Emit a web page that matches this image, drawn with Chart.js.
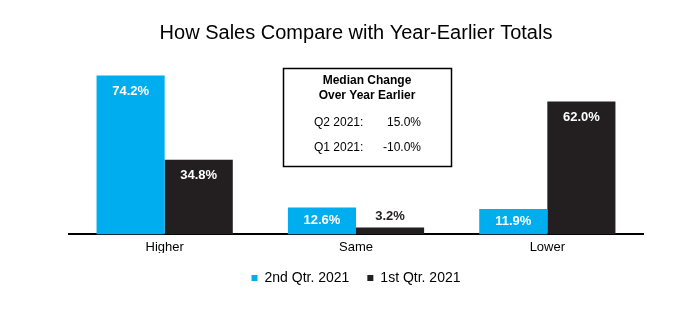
<!DOCTYPE html>
<html>
<head>
<meta charset="utf-8">
<script src="https://cdn.jsdelivr.net/npm/chart.js@4.4.0/dist/chart.umd.min.js"></script>
<style>
  html, body { margin: 0; padding: 0; background: #fff; }
  #wrap { width: 698px; height: 328px; }
</style>
</head>
<body>
<div id="wrap"><canvas id="chartSales"></canvas></div>
<script>
// data
const categories = ['Higher', 'Same', 'Lower'];
const q2_2021 = [74.2, 12.6, 11.9];
const q1_2021 = [34.8, 3.2, 62.0];
const seriesNames = ['2nd Qtr. 2021', '1st Qtr. 2021'];
const boxTitle = ['Median Change', 'Over Year Earlier'];
const boxRows = [['Q2 2021:', '15.0%'], ['Q1 2021:', '-10.0%']];

const BLUE = '#00aeef';
const DARK = '#231f20';
const FONT = "'Liberation Sans', Arial, sans-serif";

// white value labels inside the bars (black above when bar is too short)
const valueLabels = {
  id: 'valueLabels',
  afterDatasetsDraw(chart) {
    const ctx = chart.ctx;
    ctx.save();
    ctx.font = 'bold 13px ' + FONT;
    ctx.textAlign = 'center';
    ctx.textBaseline = 'middle';
    chart.data.datasets.forEach((ds, i) => {
      chart.getDatasetMeta(i).data.forEach((bar, j) => {
        const h = bar.base - bar.y;
        const txt = ds.data[j].toFixed(1) + '%';
        let y;
        if (h < 14) {
          ctx.fillStyle = DARK;
          y = bar.y - 11;
        } else if (h < 34) {
          ctx.fillStyle = '#fff';
          y = bar.y + h / 2;
        } else {
          ctx.fillStyle = '#fff';
          y = bar.y + 16;
        }
        ctx.fillText(txt, bar.x, y);
      });
    });
    ctx.restore();
  }
};

// the median change box
const medianBox = {
  id: 'medianBox',
  afterDraw(chart) {
    const ctx = chart.ctx;
    ctx.save();
    ctx.strokeStyle = '#000';
    ctx.lineWidth = 1.5;
    ctx.strokeRect(283.5, 68.5, 168, 98);
    ctx.fillStyle = '#000';
    ctx.textBaseline = 'middle';
    ctx.textAlign = 'center';
    ctx.font = 'bold 12px ' + FONT;
    ctx.fillText(boxTitle[0], 367, 81);
    ctx.fillText(boxTitle[1], 367, 96);
    ctx.font = '12px ' + FONT;
    boxRows.forEach((r, k) => {
      const y = 122.5 + k * 25;
      ctx.textAlign = 'left';
      ctx.fillText(r[0], 314, y);
      ctx.textAlign = 'right';
      ctx.fillText(r[1], 421, y);
    });
    ctx.restore();
  }
};

new Chart(document.getElementById('chartSales'), {
  type: 'bar',
  data: {
    labels: categories,
    datasets: [
      { label: seriesNames[0], data: q2_2021, backgroundColor: BLUE },
      { label: seriesNames[1], data: q1_2021, backgroundColor: DARK }
    ]
  },
  options: {
    responsive: true,
    maintainAspectRatio: false,
    animation: false,
    layout: { padding: { left: 69, right: 55, top: 0, bottom: 33 } },
    datasets: { bar: { barPercentage: 1, categoryPercentage: 0.712 } },
    scales: {
      x: {
        grid: { display: false, drawTicks: false },
        border: { display: true, color: '#000', width: 2 },
        ticks: { color: '#000', font: { family: FONT, size: 13 }, padding: 5 },
        // pull the legend a bit closer to the tick labels
        afterFit: (scale) => { scale.height -= 7; }
      },
      y: {
        display: false,
        min: 0,
        max: 80
      }
    },
    plugins: {
      title: {
        display: true,
        text: 'How Sales Compare with Year-Earlier Totals',
        color: '#000',
        font: { family: FONT, size: 20, weight: 'normal' },
        padding: { top: 21, bottom: 18 }
      },
      legend: {
        position: 'bottom',
        labels: {
          color: '#000',
          font: { family: FONT, size: 14 },
          boxWidth: 6,
          boxHeight: 6,
          padding: 18
        }
      },
      tooltip: { enabled: false }
    }
  },
  plugins: [valueLabels, medianBox]
});
</script>
</body>
</html>
